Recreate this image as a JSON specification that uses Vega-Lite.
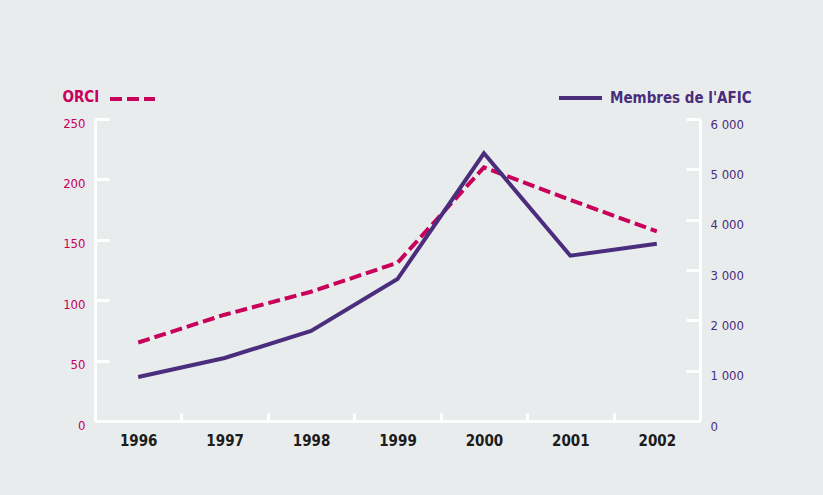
{
  "$schema": "https://vega.github.io/schema/vega-lite/v6.json",
  "width": 605,
  "height": 302,
  "autosize": {"type": "none"},
  "padding": {"left": 95, "top": 119, "right": 123, "bottom": 74},
  "background": "#e9eced",
  "config": {
    "view": {"stroke": null},
    "font": "Liberation Sans Narrow, DejaVu Sans Condensed, sans-serif",
    "axis": {"grid": false, "domainColor": "white", "domainWidth": 3, "tickColor": "white", "tickWidth": 3}
  },
  "data": {"values": [
    {"year": "1996", "orci": 65, "afic": 874},
    {"year": "1997", "orci": 88, "afic": 1252},
    {"year": "1998", "orci": 107, "afic": 1788},
    {"year": "1999", "orci": 131, "afic": 2820},
    {"year": "2000", "orci": 210, "afic": 5318},
    {"year": "2001", "orci": 183, "afic": 3284},
    {"year": "2002", "orci": 157, "afic": 3523}
  ]},
  "encoding": {
    "x": {
      "field": "year", "type": "ordinal",
      "scale": {"type": "band", "paddingInner": 0, "paddingOuter": 0},
      "axis": {"title": null, "labelAngle": 0, "tickBand": "extent", "tickSize": -8, "labelPadding": 20, "labelFontSize": 15, "labelFontWeight": "bold", "labelColor": "#1c1c1c"}
    }
  },
  "layer": [
    {
      "mark": {"type": "line", "strokeWidth": 4, "strokeDash": [12, 5]},
      "encoding": {
        "y": {"field": "orci", "type": "quantitative", "scale": {"domain": [0, 250]},
          "axis": {"orient": "left", "values": [0, 50, 100, 150, 200, 250], "tickSize": -14, "labelPadding": 24, "labelOffset": 4, "labelFontSize": 13, "labelColor": "#c8005a",
            "title": "ORCI", "titleAngle": 0, "titleX": -33, "titleY": -23, "titleAlign": "left", "titleBaseline": "middle", "titleFontSize": 15, "titleFontWeight": "bold", "titleColor": "#c8005a"}},
        "color": {"datum": "ORCI", "scale": {"range": ["#c8005a"]},
          "legend": {"orient": "none", "legendX": 13, "legendY": -44.5, "title": null, "padding": 0, "symbolType": "stroke", "symbolSize": 2025, "symbolStrokeWidth": 4, "symbolDash": [12, 5], "labelExpr": "''"}}
      }
    },
    {
      "mark": {"type": "line", "strokeWidth": 4},
      "encoding": {
        "y": {"field": "afic", "type": "quantitative", "scale": {"domain": [0, 6000]},
          "axis": {"orient": "right", "values": [0, 1000, 2000, 3000, 4000, 5000, 6000], "tickSize": -14, "labelPadding": 24, "labelOffset": 5, "labelFontSize": 13, "labelColor": "#4a2d7c", "title": null,
            "labelExpr": "replace(format(datum.value, ','), ',', ' ')"}},
        "color": {"datum": "Membres de l'AFIC", "scale": {"range": ["#4a2d7c"]},
          "legend": {"orient": "none", "legendX": 462, "legendY": -44.5, "title": null, "padding": 0, "symbolType": "stroke", "symbolSize": 1849, "symbolStrokeWidth": 4, "labelFontSize": 15, "labelFontWeight": "bold", "labelColor": "#4a2d7c", "labelOffset": 6}}
      }
    }
  ],
  "resolve": {"scale": {"y": "independent", "color": "independent"}, "axis": {"y": "independent"}, "legend": {"color": "independent"}}
}
